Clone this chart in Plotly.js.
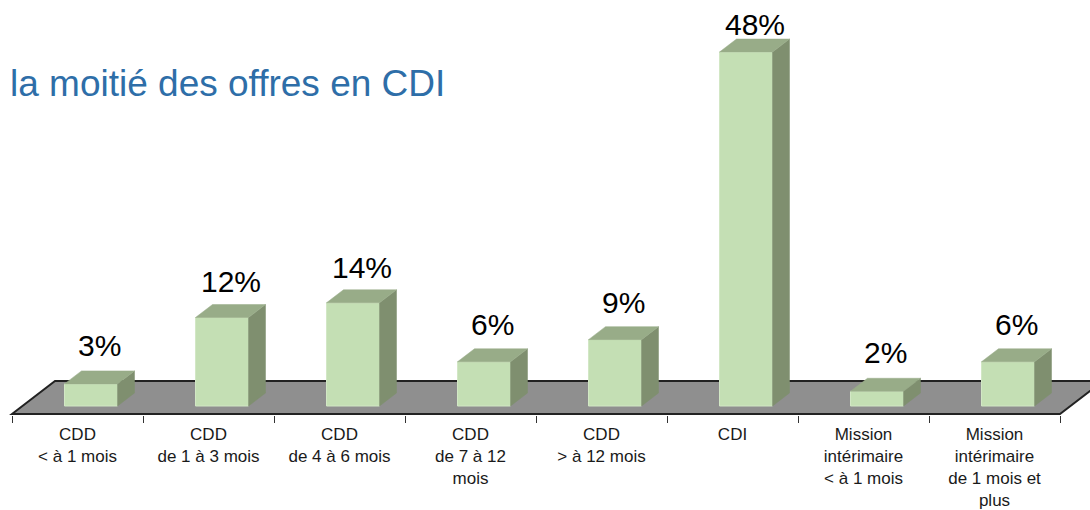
<!DOCTYPE html>
<html>
<head>
<meta charset="utf-8">
<script src="https://cdn.plot.ly/plotly-3.0.1.min.js"></script>
<style>
  html, body { margin: 0; padding: 0; background: #ffffff; }
  #chart { width: 1090px; height: 510px; }
</style>
</head>
<body>
<div id="chart"></div>
<script>
// ---- data ----
const categories = [
  "CDD<br>&lt; à 1 mois",
  "CDD<br>de 1 à 3 mois",
  "CDD<br>de 4 à 6 mois",
  "CDD<br>de 7 à 12<br>mois",
  "CDD<br>&gt; à 12 mois",
  "CDI",
  "Mission<br>intérimaire<br>&lt; à 1 mois",
  "Mission<br>intérimaire<br>de 1 mois et<br>plus"
];
const values = [3, 12, 14, 6, 9, 48, 2, 6];
const valueLabels = ["3%", "12%", "14%", "6%", "9%", "48%", "2%", "6%"];
const chartTitle = "la moitié des offres en CDI";

// ---- geometry / style constants ----
const W = 1090, H = 510;
const PLOT_BOTTOM = 415;          // px, bottom of plot area
const ZERO_PX = 406;              // px of value 0 (front bottom of bars)
const PX_PER_Y = 7.375;           // px per percentage point
const LEFT_PX = 12, RIGHT_PX = 1060; // px of first/last category boundary
const PX_PER_X = (RIGHT_PX - LEFT_PX) / categories.length;

const xMin = -0.5 - LEFT_PX / PX_PER_X;
const xMax = (categories.length - 0.5) + (W - RIGHT_PX) / PX_PER_X;
const yMax = ZERO_PX / PX_PER_Y;
const yMin = -(PLOT_BOTTOM - ZERO_PX) / PX_PER_Y;

const BAR_SHIFT = 13.5 / PX_PER_X;   // front face shift (perspective)
const BAR_W = 53 / PX_PER_X;
const DX = 17 / PX_PER_X;            // bar depth
const DY = 13 / PX_PER_Y;
const FLOOR_FRONT = -(414 - ZERO_PX) / PX_PER_Y;
const FLOOR_DX = 43 / PX_PER_X;
const FLOOR_DY = 33 / PX_PER_Y;

const FRONT = "#c4dfb4", TOP = "#98ac88", SIDE = "#7f8f6f", FLOOR = "#8f8f8f";

const idx = categories.map((_, i) => i);
const traces = [];

// front faces
traces.push({
  type: "bar",
  x: idx.map(i => i + BAR_SHIFT),
  y: values,
  width: BAR_W,
  marker: { color: FRONT, line: { color: "#d2e7c5", width: 1 } },
  hoverinfo: "skip",
  showlegend: false
});

// top & side faces
idx.forEach(i => {
  const v = values[i];
  const x0 = i + BAR_SHIFT - BAR_W / 2, x1 = i + BAR_SHIFT + BAR_W / 2;
  traces.push({
    type: "scatter", mode: "lines", fill: "toself", fillcolor: SIDE,
    x: [x1, x1 + DX, x1 + DX, x1, x1],
    y: [0, DY, v + DY, v, 0],
    line: { color: SIDE, width: 0.5 }, hoverinfo: "skip", showlegend: false
  });
  traces.push({
    type: "scatter", mode: "lines", fill: "toself", fillcolor: TOP,
    x: [x0, x0 + DX, x1 + DX, x1, x0],
    y: [v, v + DY, v + DY, v, v],
    line: { color: TOP, width: 0.5 }, hoverinfo: "skip", showlegend: false
  });
});

const nB = categories.length;
const floorPath =
  "M " + (-0.5) + "," + FLOOR_FRONT +
  " L " + (-0.5 + FLOOR_DX) + "," + (FLOOR_FRONT + FLOOR_DY) +
  " L " + (nB - 0.5 + FLOOR_DX) + "," + (FLOOR_FRONT + FLOOR_DY) +
  " L " + (nB - 0.5) + "," + FLOOR_FRONT + " Z";

const annotations = idx.map(i => ({
  x: i + BAR_SHIFT + DX / 2,
  y: values[i] * 0.967 + 5.3,
  xref: "x", yref: "y",
  text: valueLabels[i],
  showarrow: false,
  yanchor: "middle",
  font: { family: "Liberation Sans, Arial, sans-serif", size: 30, color: "#000000" }
}));

const layout = {
  width: W, height: H,
  margin: { l: 0, r: 0, t: 0, b: H - PLOT_BOTTOM, pad: 0 },
  paper_bgcolor: "#ffffff",
  plot_bgcolor: "rgba(0,0,0,0)",
  showlegend: false,
  bargap: 0,
  title: {
    text: chartTitle,
    x: 10 / W, xanchor: "left", xref: "paper",
    y: 1 - 83 / H, yanchor: "middle", yref: "container",
    font: { family: "Liberation Sans, Arial, sans-serif", size: 37, color: "#2e6ea8" }
  },
  xaxis: {
    range: [xMin, xMax],
    tickvals: idx,
    ticktext: categories,
    ticks: "",
    ticklabelstandoff: 7,
    showgrid: false, zeroline: false, showline: false,
    tickfont: { family: "Liberation Sans, Arial, sans-serif", size: 17, color: "#1a1a1a" },
    minor: {
      tickvals: idx.concat([nB]).map(i => i - 0.5),
      ticks: "outside", ticklen: 7, tickwidth: 1, tickcolor: "#333333",
      showgrid: false
    },
    fixedrange: true
  },
  yaxis: {
    range: [yMin, yMax],
    visible: false, showgrid: false, zeroline: false, fixedrange: true
  },
  shapes: [{
    type: "path", xref: "x", yref: "y", layer: "below",
    path: floorPath,
    fillcolor: FLOOR,
    line: { color: "#222222", width: 2 }
  }],
  annotations: annotations
};

Plotly.newPlot("chart", traces, layout, { displayModeBar: false, staticPlot: true });
</script>
</body>
</html>
